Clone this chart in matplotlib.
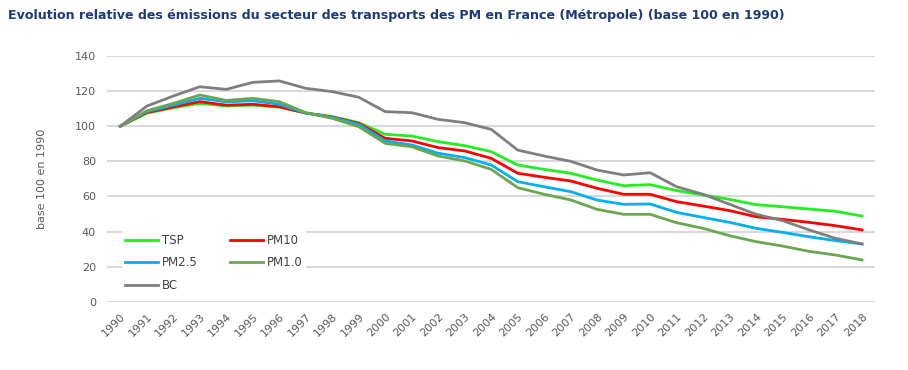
import matplotlib
matplotlib.use("Agg")
from matplotlib import pyplot as plt

years = list(range(1990, 2019))

tsp = [100, 107.5, 110.5, 113, 111.5, 112, 110.8, 107.5, 105.5, 102,
       95.4, 94.4, 91.2, 88.9, 85.5, 77.9, 75.4, 73.2, 69.3, 66.1,
       66.7, 63.3, 60.8, 58.3, 55.3, 54.1, 52.8, 51.5, 48.8]
pm10 = [100, 107.8, 111, 114, 112, 112.5, 111.1, 107.5, 105.2, 101.6,
        93.1, 91.6, 87.8, 85.9, 81.7, 73.2, 70.9, 68.8, 64.6, 61.2,
        61.2, 57, 54.5, 51.9, 48.4, 46.9, 45.2, 43.3, 40.9]
pm25 = [100, 108.3, 112, 115.9, 113.9, 114.5, 112.5, 107.5, 105, 101,
        91.6, 89.3, 84.6, 82.1, 77.9, 68.4, 65.5, 62.7, 57.9, 55.5,
        55.7, 50.9, 48, 45.2, 41.8, 39.5, 37, 34.8, 32.9]
pm1 = [100, 108.8, 113, 117.8, 114.7, 115.9, 114, 107.7, 104.5, 99.7,
       90.2, 88.3, 83, 80.2, 75.4, 65, 61.2, 58, 52.6, 49.8,
       49.8, 45, 41.8, 37.6, 34.2, 31.7, 28.7, 26.6, 23.8]
bc = [100, 111.5, 117.2, 122.5, 121, 125, 125.8, 121.6, 119.7, 116.5,
      108.3, 107.7, 103.9, 102, 98.2, 86.4, 83, 80, 75, 72.2,
      73.5, 65.5, 61.2, 55.5, 49.8, 46.2, 40.9, 36.1, 32.9]

series = [("TSP", tsp, "#22ee22"),
          ("PM10", pm10, "#ff0000"),
          ("PM2.5", pm25, "#00b0f0"),
          ("PM1.0", pm1, "#6aa84f"),
          ("BC", bc, "#7f7f7f")]

fig = plt.figure(figsize=(9.08, 3.70), dpi=100)
ax = fig.add_axes([0.118, 0.1846, 0.846, 0.664])

lines = {}
for name, vals, col in series:
    lines[name], = ax.plot(years, vals, color=col, linewidth=2.0, label=name)

ax.set_xlim(1989.5, 2018.5)
ax.set_ylim(0, 140)
ax.set_yticks(range(0, 141, 20))
ax.set_xticks(years)
ax.set_xticklabels([str(y) for y in years], rotation=45, ha="right",
                   rotation_mode="anchor")
ax.tick_params(length=0, labelsize=8, colors="#595959", pad=8)
ax.tick_params(axis="x", pad=7)
ax.grid(axis="y", color="#d9d9d9", linewidth=1.5)
ax.set_axisbelow(True)
for s in ax.spines.values():
    s.set_visible(False)

ax.set_ylabel("base 100 en 1990", fontsize=8, color="#595959", labelpad=20)

# legend fills column-wise, so reorder to get TSP/PM10 on the first row
order = ["TSP", "PM2.5", "BC", "PM10", "PM1.0"]
leg = ax.legend([lines[n] for n in order], order, ncol=2, loc="upper left",
                bbox_to_anchor=(0.019, 0.29), frameon=True, framealpha=1,
                edgecolor="none", fontsize=8.5, handlelength=2.8,
                handletextpad=0.3, columnspacing=2.75, labelspacing=0.8,
                borderpad=0.3, borderaxespad=0)
for t in leg.get_texts():
    t.set_color("#404040")

fig.text(0.009, 0.958, "Evolution relative des émissions du secteur des transports des PM "
         "en France (Métropole) (base 100 en 1990)",
         fontsize=9.1, fontweight="bold", color="#1f3a7a", va="center")

fig.savefig("out.png", dpi=100)
